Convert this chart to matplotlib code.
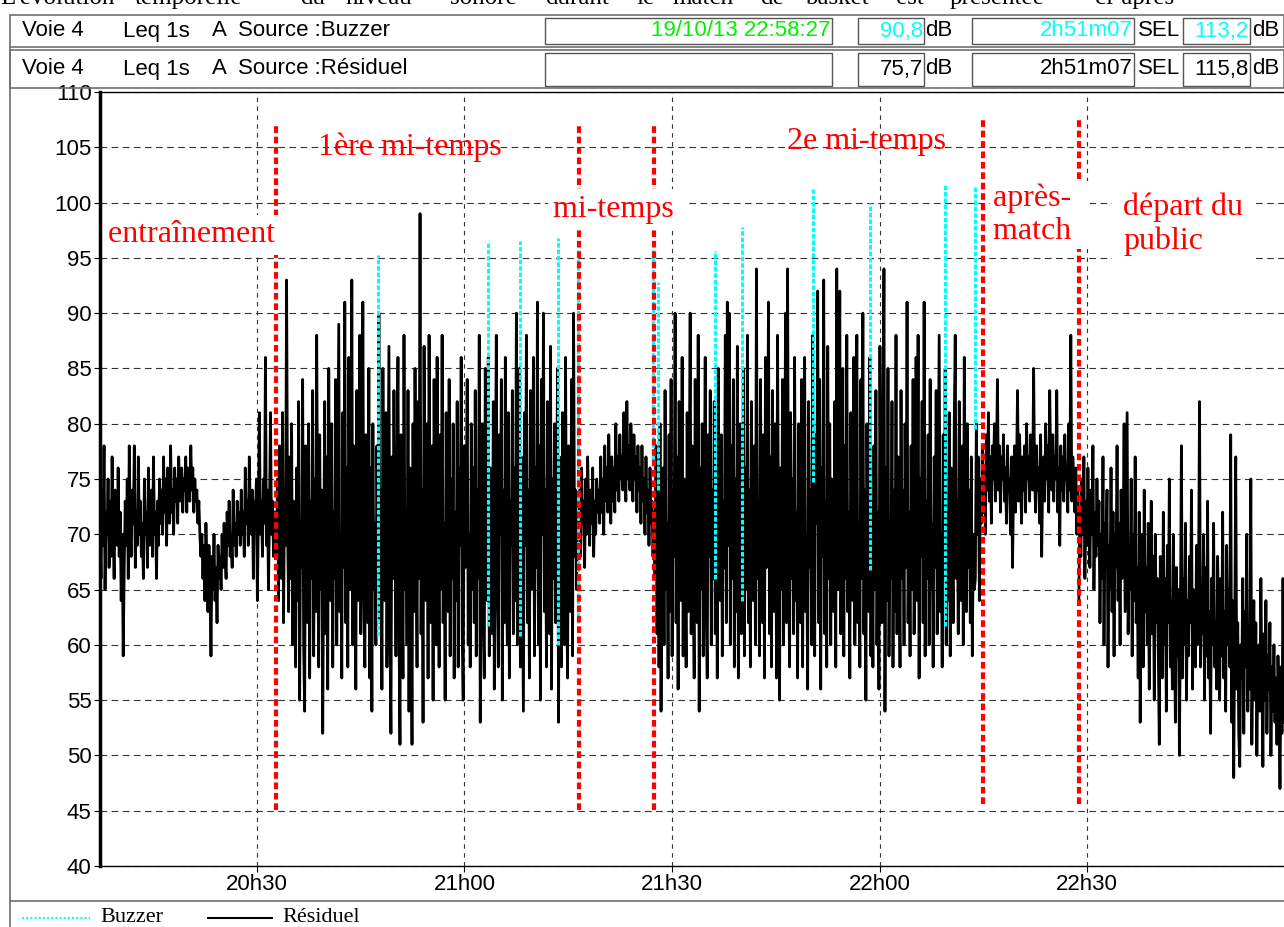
import numpy as np
import matplotlib
matplotlib.use('Agg')
import matplotlib.pyplot as plt
from matplotlib.patches import Rectangle
from matplotlib.lines import Line2D

# phase limits, minutes after 20h00 (start 20:07:20, end 22:58:27)
phase_edges = [7.33, 32.7, 76.5, 87.4, 135.0, 148.8, 178.45]

# Leq 1s A, source "Residuel", one list per phase (dB)
entrainement = [
    71, 66, 74, 69, 78, 65, 72, 70, 75, 67, 73, 68, 77, 71, 66, 74, 70, 69, 76, 68,
    72, 64, 70, 59, 67, 73, 69, 75, 66, 78, 70, 68, 74, 71, 78, 67, 72, 69, 77, 70,
    73, 68, 71, 66, 75, 70, 72, 67, 76, 69, 71, 74, 68, 77, 70, 72, 66, 73, 69, 75,
    71, 74, 70, 77, 72, 75, 69, 76, 73, 71, 78, 72, 74, 70, 76, 73, 75, 71, 77, 74,
    73, 76, 72, 75, 74, 77, 72, 76, 75, 73, 78, 74, 76, 72, 75, 73, 74, 71, 73, 70,
    68, 70, 66, 69, 64, 71, 67, 63, 69, 66, 59, 68, 65, 70, 64, 67, 62, 69, 66, 68,
    65, 70, 67, 71, 68, 66, 72, 69, 73, 68, 70, 67, 74, 69, 71, 68, 73, 70, 72, 69,
    74, 70, 72, 68, 76, 71, 73, 69, 77, 72, 70, 74, 66, 73, 71, 75, 64, 72, 81, 70,
    73, 68, 75, 71, 86, 69, 74, 65, 72, 81, 70, 73, 68, 72, 70]
mi_temps_1 = [
    72, 68, 75, 64, 78, 70, 66, 81, 62, 74, 69, 93, 71, 63, 77, 66, 80, 60, 73, 68,
    58, 76, 64, 82, 55, 71, 67, 84, 60, 54, 78, 69, 62, 80, 57, 73, 66, 83, 59, 75,
    63, 88, 70, 58, 79, 65, 74, 52, 68, 82, 61, 77, 56, 85, 69, 64, 80, 58, 72, 66,
    84, 60, 75, 89, 63, 70, 57, 81, 67, 91, 62, 76, 58, 86, 71, 65, 93, 60, 78, 68,
    56, 83, 64, 74, 88, 61, 70, 91, 66, 58, 79, 72, 62, 85, 57, 76, 54, 80, 65, 71,
    60, 78, 67, 90, 62, 74, 56, 85, 69, 64, 81, 58, 73, 87, 61, 52, 77, 66, 83, 70,
    59, 75, 86, 62, 51, 79, 68, 57, 88, 65, 72, 60, 83, 54, 76, 66, 51, 80, 63, 85,
    70, 58, 82, 66, 99, 61, 74, 53, 87, 69, 64, 80, 57, 88, 71, 62, 78, 55, 84, 67,
    60, 86, 73, 58, 79, 65, 88, 62, 71, 55, 81, 68, 63, 84, 59, 75, 66, 80, 57, 72,
    64, 82, 58, 76, 69, 86, 61, 55, 78, 67, 73, 84, 60, 70, 58, 80, 65, 76, 62, 83,
    59, 74, 66, 88, 53, 71, 80, 62, 57, 85, 68, 64, 86, 59, 76, 70, 61, 82, 56, 73,
    88, 65, 58, 79, 70, 84, 55, 74, 62, 86, 67, 60, 81, 57, 73, 69, 83, 61, 76, 64,
    90, 60, 72, 85, 58, 77, 66, 54, 81, 69, 88, 62, 74, 57, 83, 65, 71, 86, 59, 76,
    67, 91, 60, 78, 55, 84, 70, 90, 63, 74, 58, 82, 68, 61, 87, 56, 75, 66, 80, 62,
    72, 85, 53, 77, 64, 58, 81, 69, 60, 86, 66, 57, 78, 71, 63, 84, 59, 90, 68, 74,
    65, 72, 70]
pause = [
    70, 74, 68, 76, 71, 73, 67, 75, 70, 77, 72, 69, 74, 71, 76, 68, 73, 70, 75, 72,
    74, 71, 77, 72, 75, 70, 78, 73, 76, 72, 79, 74, 71, 77, 73, 76, 72, 80, 74, 77,
    73, 79, 75, 77, 74, 81, 76, 73, 82, 75, 78, 74, 80, 76, 73, 79, 75, 77, 72, 78,
    74, 76, 71, 78, 73, 75, 70, 77, 72, 74, 69, 76, 71, 73, 68, 72]
mi_temps_2 = [
    72, 66, 78, 61, 74, 58, 80, 54, 69, 76, 60, 83, 65, 71, 57, 79, 63, 84, 59, 74,
    68, 90, 62, 77, 56, 82, 70, 64, 86, 59, 75, 67, 58, 81, 63, 73, 90, 61, 78, 66,
    57, 84, 69, 62, 88, 54, 76, 65, 80, 59, 72, 86, 63, 57, 79, 68, 83, 60, 74, 66,
    82, 61, 76, 57, 85, 70, 64, 79, 59, 73, 67, 88, 62, 91, 69, 90, 60, 78, 66, 84,
    58, 75, 63, 87, 57, 72, 80, 61, 68, 85, 59, 76, 65, 88, 62, 74, 58, 82, 69, 64,
    78, 60, 94, 66, 73, 59, 84, 70, 62, 79, 57, 86, 67, 74, 91, 61, 77, 58, 83, 68,
    63, 80, 57, 88, 70, 55, 76, 65, 84, 60, 72, 90, 62, 94, 68, 58, 81, 66, 75, 61,
    86, 64, 72, 57, 80, 68, 62, 84, 58, 76, 86, 63, 70, 56, 82, 67, 74, 60, 88, 65,
    59, 79, 71, 92, 62, 84, 56, 76, 68, 93, 61, 73, 58, 87, 66, 80, 60, 75, 69, 63,
    82, 58, 94, 65, 74, 92, 61, 70, 85, 59, 78, 66, 88, 63, 72, 57, 81, 69, 64, 86,
    60, 76, 88, 62, 71, 58, 84, 66, 90, 61, 74, 55, 80, 67, 63, 86, 59, 73, 58, 78,
    65, 83, 60, 72, 56, 87, 68, 62, 79, 94, 54, 76, 64, 85, 59, 71, 66, 82, 58, 74,
    63, 88, 61, 77, 69, 58, 83, 66, 74, 60, 80, 67, 91, 62, 72, 59, 78, 65, 84, 61,
    70, 86, 64, 88, 57, 75, 68, 82, 62, 91, 59, 73, 66, 79, 60, 84, 65, 71, 58, 77,
    67, 83, 61, 74, 88, 63, 70, 58, 79, 66, 85, 60, 72, 64, 81, 59, 76, 68, 62, 80,
    88, 66, 73, 61, 82, 69, 64, 78, 60, 86, 71, 63, 80, 67, 74, 62, 77, 59, 70, 65,
    66, 80, 70, 77, 64, 75, 71, 78, 73]
apres_match = [
    72, 76, 70, 79, 74, 81, 73, 77, 71, 78, 75, 80, 73, 76, 84, 74, 78, 72, 77, 75,
    79, 73, 76, 71, 78, 74, 75, 70, 77, 67, 74, 78, 72, 76, 83, 73, 79, 75, 71, 77,
    74, 78, 72, 80, 75, 77, 73, 79, 76, 74, 85, 75, 72, 78, 74, 76, 71, 79, 68, 75,
    77, 73, 80, 75, 78, 72, 83, 76, 74, 79, 73, 77, 75, 83, 72, 76, 69, 78, 74, 77,
    73, 79, 75, 76, 72, 80, 74, 88, 73, 77, 75, 72, 76, 70, 74, 71]
depart = [
    64, 72, 68, 75, 70, 77, 66, 73, 69, 76, 71, 67, 74, 70, 78, 65, 72, 68, 75, 69,
    73, 62, 70, 66, 77, 60, 71, 68, 74, 58, 69, 65, 76, 63, 72, 59, 70, 67, 78, 64,
    71, 60, 74, 66, 69, 80, 63, 72, 81, 61, 68, 65, 75, 59, 70, 64, 77, 62, 67, 57,
    72, 53, 66, 70, 58, 74, 63, 67, 60, 71, 56, 65, 73, 61, 68, 55, 70, 62, 66, 59,
    51, 68, 63, 57, 72, 60, 66, 54, 69, 62, 75, 58, 64, 56, 70, 61, 53, 67, 59, 65,
    50, 63, 78, 57, 66, 60, 71, 55, 64, 59, 68, 62, 74, 56, 65, 61, 58, 69, 60, 66,
    82, 58, 64, 61, 70, 55, 67, 59, 73, 57, 63, 52, 66, 60, 71, 58, 62, 56, 68, 61,
    55, 66, 59, 72, 57, 63, 54, 69, 60, 65, 58, 79, 53, 64, 48, 61, 77, 56, 62, 52,
    49, 60, 57, 66, 52, 63, 58, 70, 54, 61, 56, 75, 51, 59, 64, 55, 62, 50, 58, 60,
    54, 66, 57, 49, 61, 55, 64, 52, 59, 56, 62, 50, 58, 54, 60, 53, 57, 51, 59, 55,
    47, 58, 52, 66, 53]
residuel = [entrainement, mi_temps_1, pause, mi_temps_2, apres_match, depart]

# buzzer events: time (min after 20h00), low and peak level (dB)
buzz_t = [47.5, 63.4, 68.0, 73.5, 76.4, 87.3, 88.0, 96.2, 100.1, 110.4, 118.6, 129.5, 133.8]
buzz_low = [60.8, 61.7, 60.8, 60.0, 62.0, 76.7, 74.0, 66.0, 64.0, 74.7, 66.8, 61.7, 79.5]
buzz_peak = [95.3, 96.3, 96.5, 96.8, 95.7, 95.9, 92.8, 95.6, 97.8, 101.2, 100.0, 101.6, 101.6]

# red phase markers
marker_t = [32.7, 76.5, 87.4, 135.0, 148.8]
marker_lo = [45.1, 45.1, 45.1, 45.6, 45.6]
marker_hi = [107.0, 107.0, 107.0, 107.5, 107.5]

tick_t = [30, 60, 90, 120, 150]
tick_labels = ['20h30', '21h00', '21h30', '22h00', '22h30']

W, H = 1284, 927
SANS = 'Liberation Sans'
SERIF = 'Liberation Serif'


def fx(x):
    return x / W


def fy(y):
    return 1 - y / H


def box(fig, x0, y0, x1, y1, color='#707070', lw=1.2):
    fig.add_artist(Rectangle((fx(x0), fy(y1)), fx(x1) - fx(x0), fy(y0) - fy(y1),
                             transform=fig.transFigure, fill=False, ec=color, lw=lw))


def ftext(fig, x, y, s, **kw):
    kw.setdefault('family', SANS)
    kw.setdefault('fontsize', 16)
    kw.setdefault('va', 'center')
    fig.text(fx(x), fy(y), s, **kw)


fig = plt.figure(figsize=(W / 100, H / 100), dpi=100)

# clipped caption line at the very top
words = ["L'évolution", 'temporelle', 'du', 'niveau', 'sonore', 'durant', 'le', 'match',
         'de', 'basket', 'est', 'présentée', 'ci-après']
word_x = [0, 135, 300, 345, 450, 545, 636, 672, 760, 805, 896, 950, 1095]
for w, x in zip(words, word_x):
    ftext(fig, x, 4, w, family=SERIF, fontsize=18, va='baseline')

# header rows
box(fig, 10, 15, 1284, 47)
box(fig, 10, 50, 1284, 88)
for y0, y1 in [(18, 44), (53, 86)]:
    box(fig, 545, y0, 832, y1, '#555555', 1)
    box(fig, 858, y0, 924, y1, '#555555', 1)
    box(fig, 972, y0, 1134, y1, '#555555', 1)
    box(fig, 1183, y0, 1250, y1, '#555555', 1)

rows = [(31, 'Buzzer', '#00FFFF', ['90,8', '2h51m07', '113,2']),
        (69, 'Résiduel', 'black', ['75,7', '2h51m07', '115,8'])]
for y, src, col, vals in rows:
    ftext(fig, 22, y, 'Voie 4')
    ftext(fig, 123, y, 'Leq 1s')
    ftext(fig, 212, y, 'A')
    ftext(fig, 238, y, 'Source :' + src)
    ftext(fig, 923, y, vals[0], color=col, ha='right')
    ftext(fig, 925, y, 'dB')
    ftext(fig, 1133, y, vals[1], color=col, ha='right')
    ftext(fig, 1138, y, 'SEL')
    ftext(fig, 1249, y, vals[2], color=col, ha='right')
    ftext(fig, 1252, y, 'dB')
ftext(fig, 830, 31, '19/10/13 22:58:27', color='#00F000', ha='right')

# outer frame of chart and legend
fig.add_artist(Line2D([fx(10), fx(10)], [fy(47), 0], transform=fig.transFigure,
                      color='#707070', lw=1.2))
fig.add_artist(Line2D([fx(10), 1], [fy(901), fy(901)], transform=fig.transFigure,
                      color='#707070', lw=1.2))

ax = fig.add_axes([fx(100), fy(866), 1 - fx(100), fy(92) - fy(866)])
ax.set_xlim(phase_edges[0], phase_edges[-1])
ax.set_ylim(40, 110)

for i, vals in enumerate(residuel):
    t = np.linspace(phase_edges[i], phase_edges[i + 1], len(vals))
    ax.plot(t, vals, color='black', lw=2.0, zorder=2)

ax.vlines(buzz_t, buzz_low, buzz_peak, colors='#00FFFF', lw=2.2,
          linestyles=[(0, (1.5, 0.6))], zorder=3)
ax.vlines(marker_t, marker_lo, marker_hi, colors='#FF0000', lw=3,
          linestyles=[(0, (1.6, 0.9))], zorder=4)

lab = dict(color='#FF0000', family=SERIF, fontsize=23, zorder=5)
wbox = dict(facecolor='white', edgecolor='none', pad=4)
ax.text(8.5, 97.1, 'entraînement ', ha='left', va='center', bbox=wbox, **lab)
ax.text(38.8, 105.0, '1ère mi-temps', ha='left', va='center', **lab)
ax.text(72.8, 99.4, 'mi-temps ', ha='left', va='center', bbox=wbox, **lab)
ax.text(106.6, 105.5, '2e mi-temps', ha='left', va='center', **lab)
ax.text(136.4, 98.9, 'après-  \nmatch  ', ha='left', va='center', linespacing=1.15,
        bbox=dict(facecolor='white', edgecolor='none', pad=2), **lab)
ax.text(155.2, 98.0, 'départ du\npublic', ha='left', va='center', linespacing=1.2,
        bbox=dict(facecolor='white', edgecolor='none', pad=8), **lab)

ax.set_yticks(np.arange(40, 111, 5))
ax.set_xticks(tick_t)
ax.set_xticklabels(tick_labels)
ax.yaxis.grid(True, color='#333333', lw=0.8, linestyle=(0, (6, 4)))
ax.xaxis.grid(True, color='#333333', lw=0.8, linestyle=(0, (4, 4)))
ax.set_axisbelow(True)
ax.tick_params(axis='both', length=4, width=0.8, labelsize=16, pad=2)
for lbl in ax.get_xticklabels() + ax.get_yticklabels():
    lbl.set_family(SANS)
ax.spines['left'].set_linewidth(2.5)
ax.spines['right'].set_visible(False)
ax.spines['top'].set_linewidth(1)
ax.spines['bottom'].set_linewidth(1)

# legend strip
fig.add_artist(Line2D([fx(22), fx(90)], [fy(918), fy(918)], transform=fig.transFigure,
                      color='#00FFFF', lw=1.5, linestyle=(0, (1, 1))))
ftext(fig, 100, 918, 'Buzzer', family=SERIF)
fig.add_artist(Line2D([fx(208), fx(272)], [fy(918), fy(918)], transform=fig.transFigure,
                      color='black', lw=1.5))
ftext(fig, 282, 918, 'Résiduel', family=SERIF)

fig.savefig('out.png', dpi=100)
